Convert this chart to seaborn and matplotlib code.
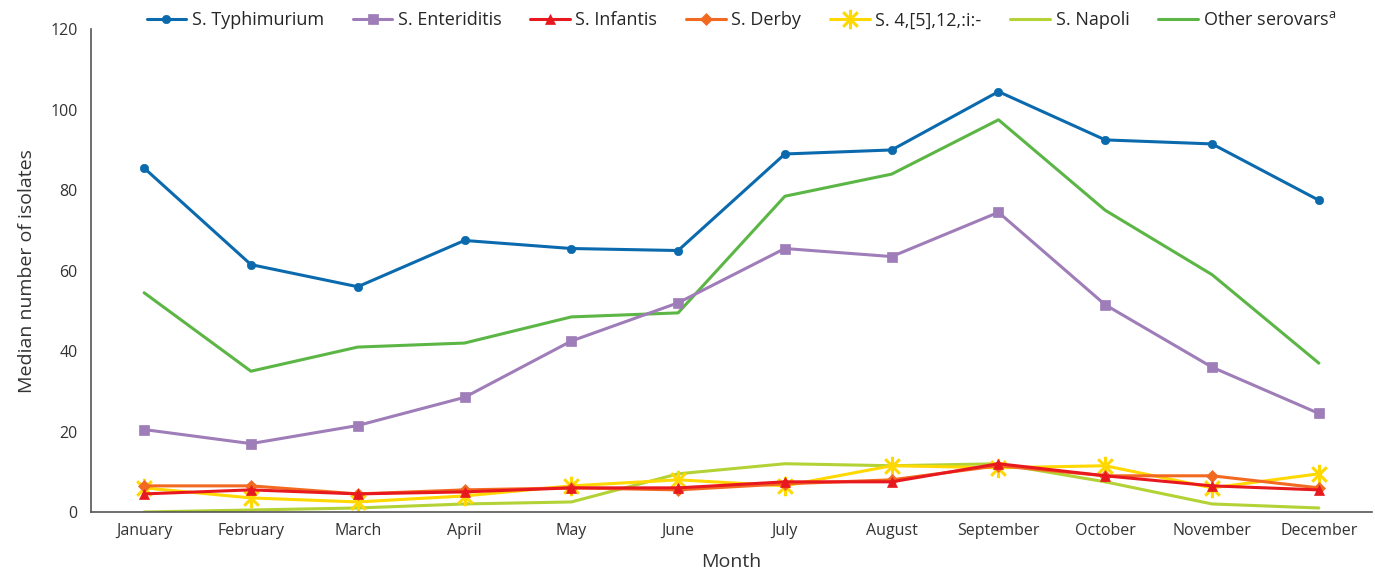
import pandas as pd
import matplotlib.pyplot as plt
import seaborn as sns
from matplotlib.path import Path

months = ['January', 'February', 'March', 'April', 'May', 'June', 'July',
          'August', 'September', 'October', 'November', 'December']

typhimurium = [85.5, 61.5, 56, 67.5, 65.5, 65, 89, 90, 104.5, 92.5, 91.5, 77.5]
enteriditis = [20.5, 17, 21.5, 28.5, 42.5, 52, 65.5, 63.5, 74.5, 51.5, 36, 24.5]
infantis = [4.5, 5.5, 4.5, 5, 6, 6, 7.5, 7.5, 12, 9, 6.5, 5.5]
derby = [6.5, 6.5, 4.5, 5.5, 6, 5.5, 7, 8, 11.5, 9, 9, 6]
monophasic = [6, 3.5, 2.5, 4, 6.5, 8, 6.5, 11.5, 11, 11.5, 6, 9.5]
napoli = [0, 0.5, 1, 2, 2.5, 9.5, 12, 11.5, 12, 7.5, 2, 1]
other = [54.5, 35, 41, 42, 48.5, 49.5, 78.5, 84, 97.5, 75, 59, 37]

series_names = ['S. Typhimurium', 'S. Enteriditis', 'S. Infantis', 'S. Derby',
                'S. 4,[5],12,:i:-', 'S. Napoli', 'Other serovars$^{\\mathregular{a}}$']
series_values = [typhimurium, enteriditis, infantis, derby, monophasic, napoli, other]
colors = ['#0a6aad', '#9f7db8', '#e8191e', '#f26a21', '#ffd800', '#b3d236', '#5bb645']

# asterisk like the Excel one: vertical bar plus an X
d = 0.75
asterisk = Path([(0, -1), (0, 1), (-d, -d), (d, d), (-d, d), (d, -d)],
                [Path.MOVETO, Path.LINETO, Path.MOVETO, Path.LINETO, Path.MOVETO, Path.LINETO])
markers = ['o', 's', '^', 'D', asterisk, None, None]
msizes = [6, 7, 7, 6, 14, 0, 0]

sns.set_style('white')
plt.rcParams['font.family'] = ['Open Sans', 'DejaVu Sans']

fig, ax = plt.subplots(figsize=(13.75, 5.74), dpi=100)
fig.subplots_adjust(left=0.066, right=0.998, top=0.949, bottom=0.108)

# draw bottom series first so blue stays on top
order = [6, 5, 4, 3, 2, 1, 0]
for i in order:
    df = pd.DataFrame({'Month': months, 'Value': series_values[i]})
    kw = {}
    if markers[i] is not None:
        kw = dict(marker=markers[i], markersize=msizes[i], markeredgewidth=2.2 if i == 4 else 0.5,
                  markeredgecolor=colors[i])
    sns.lineplot(data=df, x='Month', y='Value', color=colors[i], linewidth=2.2,
                 label=series_names[i], ax=ax, sort=False, **kw)

ax.set_xlim(-0.5, 11.5)
ax.set_ylim(0, 120)
ax.set_yticks(range(0, 121, 20))
ax.set_xticks(range(12))
ax.set_xticklabels(months)
ax.set_xticks([x - 0.5 for x in range(13)], minor=True)
ax.tick_params(axis='x', which='major', length=0, pad=8, labelsize=11.5, colors='#333333')
ax.tick_params(axis='x', which='minor', length=6, width=1, color='#555555', direction='out')
ax.tick_params(axis='y', length=6, width=1, color='#555555', direction='out', labelsize=11.5,
               labelcolor='#333333')
for s in ['top', 'right']:
    ax.spines[s].set_visible(False)
for s in ['left', 'bottom']:
    ax.spines[s].set_color('#555555')
    ax.spines[s].set_linewidth(1.2)

ax.set_xlabel('Month', fontsize=14, color='#333333', labelpad=10)
ax.set_ylabel('Median number of isolates', fontsize=14, color='#333333', labelpad=10)

handles, labels = ax.get_legend_handles_labels()
hl = dict(zip(labels, handles))
ax.legend([hl[n] for n in series_names], series_names, loc='lower center',
          bbox_to_anchor=(0.508, 0.985), ncol=7, frameon=False, fontsize=13,
          handlelength=2.2, handletextpad=0.3, columnspacing=1.6, borderaxespad=0)

fig.savefig('out.png', dpi=100)
